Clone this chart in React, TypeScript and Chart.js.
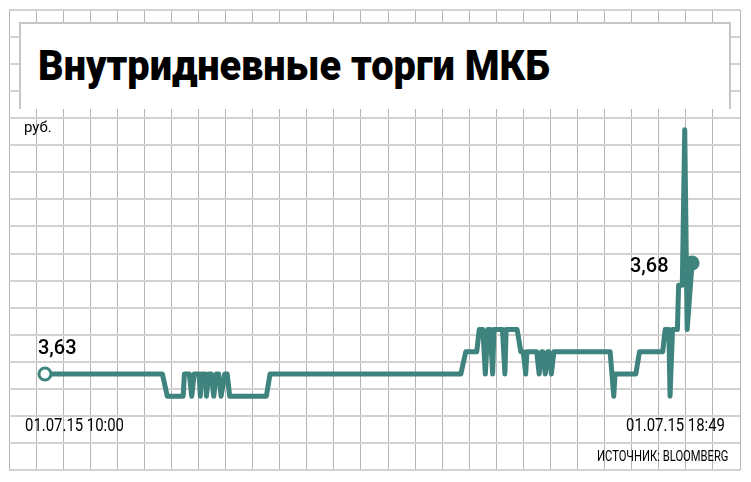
import React, { useEffect, useLayoutEffect, useRef } from "react";
import { Chart, registerables } from "chart.js";

Chart.register(...registerables);

// Minutes after 10:00 on 01.07.15
const minutes = [
  0, 96, 100, 113, 114, 118, 120, 122, 126, 127, 128, 131, 132, 134, 136, 138, 140, 142, 144, 147, 149, 151,
  181, 184, 340, 344, 353, 355, 358, 360, 362, 364, 366, 367, 374, 376, 377, 386, 389, 391, 393, 394,
  402, 404, 406, 407, 409, 411, 412, 414, 416, 462, 465, 466, 483, 486, 505, 507, 510, 511, 513, 517,
  518, 521, 523, 525, 529,
];
// Price, rub.
const prices = [
  3.63, 3.63, 3.62, 3.62, 3.63, 3.63, 3.62, 3.63, 3.63, 3.62, 3.63, 3.63, 3.62, 3.63, 3.63, 3.62, 3.63, 3.63, 3.62, 3.63, 3.63, 3.62,
  3.62, 3.63, 3.63, 3.64, 3.64, 3.65, 3.65, 3.63, 3.65, 3.65, 3.63, 3.65, 3.65, 3.63, 3.65, 3.65, 3.64, 3.64, 3.63, 3.64,
  3.64, 3.63, 3.64, 3.64, 3.63, 3.64, 3.64, 3.63, 3.64, 3.64, 3.62, 3.63, 3.63, 3.64, 3.64, 3.65, 3.65, 3.62, 3.65, 3.65,
  3.67, 3.67, 3.74, 3.65, 3.68,
];

const title = "Внутридневные торги МКБ";
const unitLabel = "руб.";
const startTimeLabel = "01.07.15 10:00";
const endTimeLabel = "01.07.15 18:49";
const startValueLabel = "3,63";
const endValueLabel = "3,68";
const sourceLabel = "ИСТОЧНИК: BLOOMBERG";

// Axis ranges
const timeMin = -29.39;
const timeMax = 568.18;
const priceMin = 3.58676;
const priceMax = 3.79396;
const gridCols = 27;
const gridRows = 17;

const TEAL = "#3e837d";

type FitProps = {
  text: string;
  left: number;
  baseline: number;
  size: number;
  weight?: number;
  width?: number;
};

function FitText({ text, left, baseline, size, weight, width }: FitProps) {
  const ref = useRef<HTMLSpanElement>(null);
  useLayoutEffect(() => {
    const el = ref.current;
    if (!el || !width) return;
    el.style.transform = "none";
    const w = el.getBoundingClientRect().width;
    if (w > 0) el.style.transform = `scaleX(${width / w})`;
  }, [text, width]);
  return (
    <span
      ref={ref}
      style={{
        position: "absolute",
        left,
        top: baseline - 0.8418 * size,
        fontFamily: "Roboto, 'Noto Sans', sans-serif",
        fontSize: size,
        lineHeight: `${size}px`,
        fontWeight: weight || 400,
        whiteSpace: "nowrap",
        transformOrigin: "0 0",
        color: "#000",
        zIndex: 3,
      }}
    >
      {text}
    </span>
  );
}

export default function App() {
  const canvasRef = useRef<HTMLCanvasElement>(null);

  useEffect(() => {
    const canvas = canvasRef.current;
    if (!canvas) return;
    const last = minutes.length - 1;
    const chart = new Chart(canvas, {
      type: "line",
      data: {
        datasets: [
          {
            data: minutes.map((m, i) => ({ x: m, y: prices[i] })),
            borderColor: TEAL,
            borderWidth: 5,
            borderJoinStyle: "round",
            borderCapStyle: "round",
            tension: 0,
            xAxisID: "x",
            yAxisID: "y",
            pointRadius: (ctx: any) => (ctx.dataIndex === 0 ? 6 : ctx.dataIndex === last ? 7.5 : 0),
            pointBorderWidth: (ctx: any) => (ctx.dataIndex === 0 ? 3 : 0),
            pointBackgroundColor: (ctx: any) => (ctx.dataIndex === 0 ? "#ffffff" : TEAL),
            pointBorderColor: TEAL,
            pointHoverRadius: 0,
          } as any,
        ],
      },
      options: {
        responsive: false,
        animation: false,
        devicePixelRatio: 1,
        layout: { padding: { left: 8, top: 10, right: 11, bottom: 12 } },
        plugins: { legend: { display: false }, tooltip: { enabled: false } },
        events: [],
        scales: {
          gx: {
            type: "linear",
            axis: "x",
            position: "bottom",
            min: 0,
            max: gridCols,
            ticks: { display: false, stepSize: 1 },
            afterBuildTicks: (s: any) => {
              s.ticks = Array.from({ length: gridCols + 1 }, (_, i) => ({ value: i }));
            },
            grid: { color: "#b4b4b4", lineWidth: 1, drawTicks: false },
            border: { display: false },
          },
          gy: {
            type: "linear",
            axis: "y",
            position: "left",
            min: 0,
            max: gridRows,
            ticks: { display: false, stepSize: 1 },
            afterBuildTicks: (s: any) => {
              s.ticks = Array.from({ length: gridRows + 1 }, (_, i) => ({ value: i }));
            },
            grid: { color: "#d2d2d2", lineWidth: 2, drawTicks: false },
            border: { display: false },
          },
          x: { type: "linear", display: false, min: timeMin, max: timeMax },
          y: { type: "linear", display: false, min: priceMin, max: priceMax },
        } as any,
      },
    });
    return () => chart.destroy();
  }, []);

  return (
    <div style={{ position: "absolute", left: 0, top: 0, width: 751, height: 482, background: "#fff", overflow: "hidden" }}>
      <canvas ref={canvasRef} width={751} height={482} style={{ position: "absolute", left: 0, top: 0 }} />
      <div
        style={{
          position: "absolute",
          left: 19,
          top: 22,
          width: 708,
          height: 85,
          background: "#fff",
          borderTop: "2px solid #c6c6c6",
          borderLeft: "2px solid #c6c6c6",
          borderRight: "2px solid #c6c6c6",
          zIndex: 2,
        }}
      />
      <FitText text={title} left={38} baseline={80} size={42} weight={900} width={512} />
      <FitText text={unitLabel} left={24} baseline={133} size={15} />
      <FitText text={startValueLabel} left={38} baseline={354} size={20} weight={500} />
      <FitText text={endValueLabel} left={630} baseline={272} size={20} weight={500} />
      <FitText text={startTimeLabel} left={25} baseline={432} size={18.5} width={99} />
      <FitText text={endTimeLabel} left={626} baseline={432} size={18.5} width={99} />
      <FitText text={sourceLabel} left={597} baseline={462.5} size={14.5} width={131.5} />
    </div>
  );
}
